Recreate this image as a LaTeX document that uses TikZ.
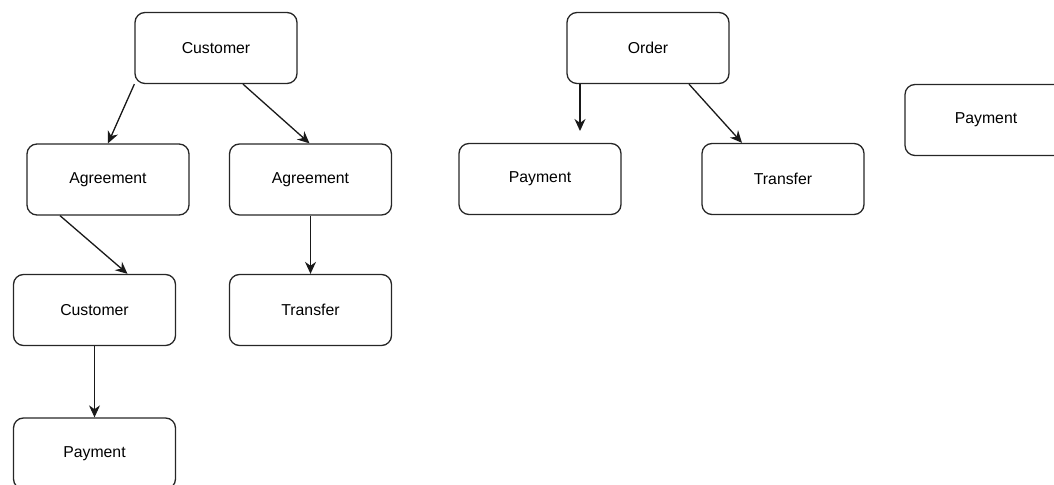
\documentclass[tikz,border=0pt]{standalone}
\usepackage{fontspec}
\setmainfont{Liberation Sans}
\usepackage{tikz}
\usetikzlibrary{arrows.meta,positioning}

\begin{document}
\begin{tikzpicture}[x=0.5pt,y=-0.5pt,
  entity/.style={draw=black!85,line width=0.65pt,rounded corners=5pt,
    minimum width=81pt,minimum height=35.5pt,inner sep=0pt,
    font=\fontsize{7.9}{9.5}\selectfont},
  link/.style={-{Stealth[length=6pt,width=5.5pt]},line width=0.65pt,draw=black!90}]
% Entities and their links
\useasboundingbox (0,0) rectangle (1054,485);
\node[entity] (cust) at (216,48) {Customer};
\node[entity] (agrL) at (108,179.5) {Agreement};
\node[entity] (agrR) at (310.5,179.5) {Agreement};
\node[entity] (cust2) at (94.5,310) {Customer};
\node[entity] (transL) at (310.5,310) {Transfer};
\node[entity] (pay) at (94.5,453.5) {Payment};
\node[entity] (order) at (648,48) {Order};
\node[entity] (payM) at (540,179) {Payment};
\node[entity] (transR) at (783,179) {Transfer};
\node[entity] (payR) at (986,120) {Payment};
\coordinate (orderEnd) at (580,131);
\draw[link] (cust.south west) -- (agrL.north);
\draw[link] ([xshift=13.5pt]cust.south) -- ([xshift=-0.5pt]agrR.north);
\draw[link] ([xshift=-24pt]agrL.south) -- ([xshift=16.5pt]cust2.north);
\draw[link] (agrR.south) -- (transL.north);
\draw[link,line width=0.45pt] (cust2.south) -- (pay.north);
\draw[link] ([xshift=-34pt]order.south) -- (orderEnd);
\draw[link] ([xshift=20.5pt]order.south) -- ([xshift=-20.5pt]transR.north);
\end{tikzpicture}
\end{document}
